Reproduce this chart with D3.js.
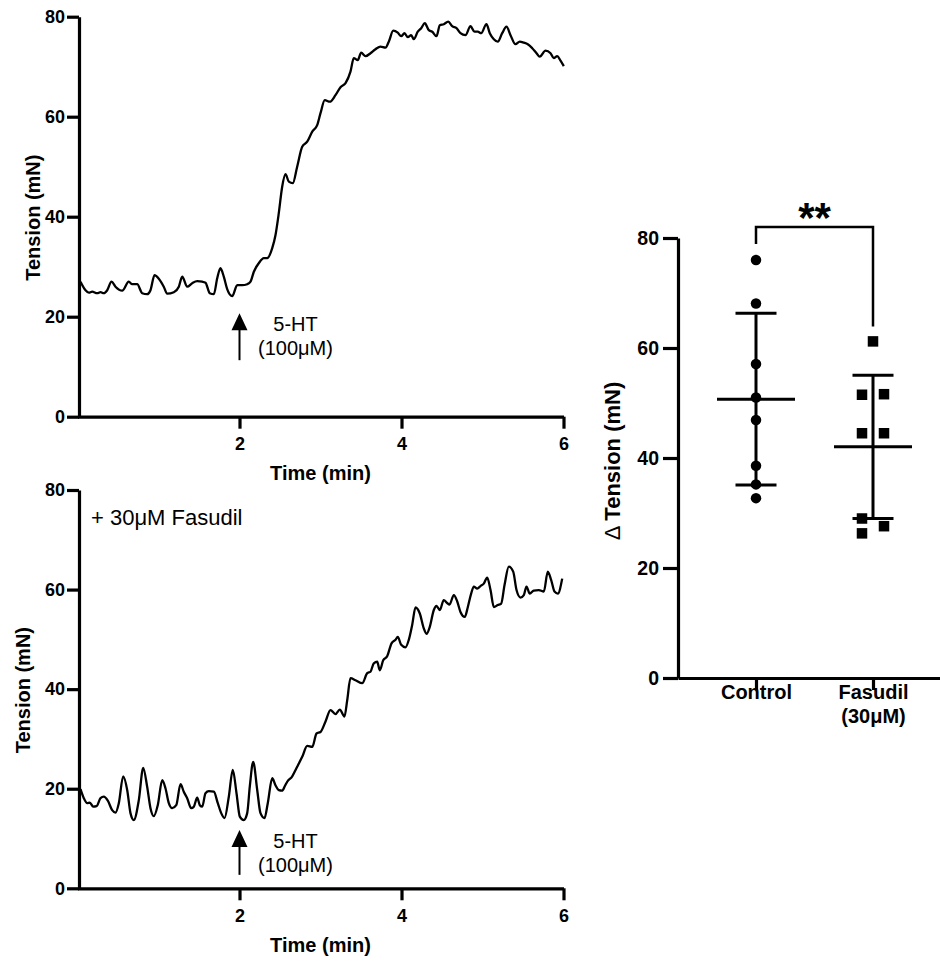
<!DOCTYPE html>
<html>
<head>
<meta charset="utf-8">
<script src="https://cdn.jsdelivr.net/npm/d3@7"></script>
<style>
  html, body { margin: 0; padding: 0; background: #fff; }
  svg { display: block; }
</style>
</head>
<body>
<svg id="fig" width="940" height="961"></svg>
<script>
// ---- Isometric tension recordings (time in min, tension in mN) ----
const controlTime = [0.037,0.099,0.140,0.181,0.243,0.284,0.325,0.367,0.420,0.469,0.552,0.633,0.675,0.737,0.799,0.860,0.901,0.951,1.004,1.065,1.107,1.189,1.251,1.293,1.354,1.416,1.478,1.540,1.580,1.633,1.683,1.725,1.765,1.806,1.848,1.910,1.972,2.033,2.095,2.136,2.177,2.238,2.300,2.342,2.404,2.444,2.485,2.527,2.568,2.609,2.658,2.712,2.774,2.836,2.898,2.959,3.000,3.053,3.115,3.185,3.247,3.309,3.370,3.411,3.460,3.502,3.556,3.617,3.679,3.741,3.802,3.843,3.898,3.954,3.996,4.037,4.078,4.120,4.152,4.201,4.243,4.288,4.337,4.379,4.432,4.473,4.522,4.577,4.626,4.679,4.728,4.790,4.852,4.901,4.942,4.984,5.049,5.090,5.140,5.189,5.243,5.296,5.346,5.407,5.460,5.510,5.559,5.614,5.667,5.707,5.778,5.840,5.880,5.922,5.963,6.004];
const controlTension = [27.0,25.3,24.8,25.0,24.7,24.9,24.7,25.3,27.0,26.0,25.2,27.0,26.5,26.5,24.7,24.5,25.3,28.3,27.6,26.0,24.6,24.9,26.0,28.0,26.0,26.7,27.1,27.0,26.8,24.7,24.5,27.7,29.7,28.0,25.5,24.1,26.3,26.3,26.5,27.0,29.0,30.7,31.7,31.7,33.7,36.3,40.7,46.0,48.5,47.0,46.7,50.0,54.0,55.0,57.0,58.3,60.7,63.3,63.0,64.3,65.9,66.7,69.0,71.7,71.3,72.8,72.1,72.7,73.5,74.0,73.8,75.0,77.2,76.8,76.1,76.7,75.9,76.3,75.5,77.0,77.7,78.7,77.3,77.0,76.1,78.3,78.5,79.0,78.1,77.7,76.7,76.3,78.1,77.0,77.0,76.7,78.5,76.7,75.5,75.0,76.7,78.0,76.3,74.5,75.0,74.8,74.5,73.7,72.7,72.0,73.2,72.7,71.7,72.1,71.2,70.1];

const fasudilTime = [0.037,0.078,0.120,0.152,0.194,0.235,0.284,0.325,0.374,0.428,0.469,0.510,0.564,0.614,0.654,0.695,0.757,0.811,0.860,0.901,0.942,0.991,1.046,1.086,1.127,1.169,1.219,1.272,1.312,1.354,1.404,1.436,1.478,1.510,1.540,1.580,1.621,1.683,1.732,1.774,1.815,1.868,1.917,1.963,2.004,2.053,2.095,2.127,2.169,2.219,2.259,2.309,2.349,2.404,2.444,2.485,2.525,2.562,2.589,2.651,2.712,2.774,2.836,2.898,2.951,3.000,3.062,3.123,3.185,3.238,3.296,3.330,3.370,3.432,3.515,3.577,3.617,3.658,3.700,3.732,3.774,3.823,3.877,3.926,3.954,3.996,4.049,4.090,4.132,4.173,4.226,4.275,4.309,4.349,4.399,4.432,4.473,4.522,4.564,4.593,4.646,4.688,4.728,4.781,4.819,4.860,4.893,4.935,4.975,5.016,5.058,5.099,5.140,5.189,5.231,5.272,5.325,5.379,5.420,5.469,5.510,5.543,5.584,5.633,5.695,5.757,5.806,5.848,5.889,5.930,5.984];
const fasudilTension = [19.9,18.1,17.1,17.2,16.4,16.5,18.1,18.4,17.6,15.7,15.2,17.1,22.5,19.7,15.1,13.7,17.7,24.2,20.4,16.1,14.5,16.7,21.7,20.1,17.1,16.1,16.7,20.9,19.4,18.1,16.1,16.4,18.2,16.7,16.4,19.1,19.5,19.4,17.1,15.1,14.1,18.4,23.8,19.1,14.4,13.7,15.1,20.4,25.4,19.7,15.1,14.1,17.1,22.1,20.7,19.7,19.6,20.6,21.4,22.5,24.4,26.4,28.6,28.4,31.1,31.4,33.5,35.8,35.0,35.9,34.5,37.8,42.2,41.8,41.2,43.2,43.5,45.2,45.5,43.8,45.8,46.6,49.2,49.9,50.5,48.9,48.4,49.9,52.9,56.4,55.2,52.2,51.1,52.5,55.9,56.7,55.9,57.9,57.3,57.0,58.9,57.6,55.5,54.5,56.5,59.2,60.6,60.2,60.7,61.2,62.4,59.9,56.5,56.9,57.2,60.9,64.6,63.6,59.9,58.4,58.9,60.6,59.2,59.8,59.9,59.6,63.6,61.9,59.6,59.2,62.2];

const tensionTicks = [0, 20, 40, 60, 80];
const timeTicks = [2, 4, 6];

// ---- Peak response to 5-HT (Δ tension, mN) ----
const groups = ["Control", "Fasudil"];
const groupLabelLines = [["Control"], ["Fasudil", "(30μM)"]];
const controlDelta = [76.0, 68.1, 57.1, 51.0, 46.9, 38.6, 35.2, 32.7];
const fasudilDelta = [61.2, 51.5, 51.6, 44.5, 44.5, 29.0, 27.6, 26.3];
const deltaTicks = [0, 20, 40, 60, 80];
const significance = "**";

// ---------------------------------------------------------------------------
const FONT = '"Liberation Sans", Arial, Helvetica, sans-serif';
const AXIS_W = 3.2;
const svg = d3.select("#fig");

function styleAxis(g, fontSize) {
  g.attr("font-family", FONT);
  g.select(".domain").attr("stroke", "#000").attr("stroke-width", AXIS_W);
  g.selectAll(".tick line").attr("stroke", "#000").attr("stroke-width", AXIS_W);
  g.selectAll(".tick text")
    .attr("font-size", fontSize)
    .attr("font-weight", "bold")
    .attr("fill", "#000");
}

const x = d3.scaleLinear().domain([0, 6]).range([77.5, 563.5]);
const axisX = 79;

const panels = [
  { time: controlTime, tension: controlTension, yBottom: 416.7, yTop: 16.7,
    yTitleX: 40, xTitleY: 480, arrow: [20.7, 11.3] },
  { time: fasudilTime, tension: fasudilTension, yBottom: 888.3, yTop: 490,
    yTitleX: 30, xTitleY: 952, arrow: [11.7, 2.7], note: "+ 30μM Fasudil" }
];

panels.forEach(p => {
  const y = d3.scaleLinear().domain([0, 80]).range([p.yBottom, p.yTop]);
  const g = svg.append("g");

  // trace
  const pts = p.time.map((t, i) => [t, p.tension[i]]);
  g.append("path")
    .datum(pts)
    .attr("fill", "none")
    .attr("stroke", "#000")
    .attr("stroke-width", 2.3)
    .attr("stroke-linejoin", "round")
    .attr("d", d3.line().x(d => x(d[0])).y(d => y(d[1])).curve(d3.curveMonotoneX));

  // axes
  const gx = g.append("g").attr("transform", `translate(0,${p.yBottom})`)
    .call(d3.axisBottom(x).tickValues(timeTicks).tickFormat(d3.format("d"))
      .tickSize(12).tickPadding(8.5).tickSizeOuter(0));
  styleAxis(gx, 18);
  const gy = g.append("g").attr("transform", `translate(${axisX},0)`)
    .call(d3.axisLeft(y).tickValues(tensionTicks).tickFormat(d3.format("d"))
      .tickSize(12).tickPadding(2).tickSizeOuter(0));
  styleAxis(gy, 18);

  // axis titles
  g.append("text")
    .attr("x", (x.range()[0] + x.range()[1]) / 2).attr("y", p.xTitleY)
    .attr("text-anchor", "middle").attr("font-family", FONT)
    .attr("font-size", 20).attr("font-weight", "bold")
    .text("Time (min)");
  const cy = (p.yBottom + p.yTop) / 2 + 1;
  g.append("text")
    .attr("transform", `translate(${p.yTitleX},${cy}) rotate(-90)`)
    .attr("text-anchor", "middle").attr("font-family", FONT)
    .attr("font-size", 20).attr("font-weight", "bold")
    .text("Tension (mN)");

  // 5-HT addition marker
  const ax = x(2), tip = y(p.arrow[0]), base = y(p.arrow[1]);
  g.append("line")
    .attr("x1", ax).attr("x2", ax).attr("y1", tip + 14).attr("y2", base)
    .attr("stroke", "#000").attr("stroke-width", 2);
  g.append("path")
    .attr("d", `M${ax},${tip} L${ax + 8},${tip + 17} L${ax - 8},${tip + 17} Z`)
    .attr("fill", "#000");
  const lab = g.append("text")
    .attr("font-family", FONT).attr("font-size", 20)
    .attr("text-anchor", "middle");
  lab.append("tspan").attr("x", ax + 56).attr("y", tip + 18).text("5-HT");
  lab.append("tspan").attr("x", ax + 56).attr("y", tip + 42).text("(100μM)");

  if (p.note) {
    g.append("text")
      .attr("x", axisX + 12).attr("y", p.yTop + 35)
      .attr("font-family", FONT).attr("font-size", 22)
      .text(p.note);
  }
});

// ---- Scatter of Δ tension with mean ± SD ----
const yD = d3.scaleLinear().domain([0, 80]).range([678, 238]);
const xD = d3.scalePoint().domain(groups).range([678, 951]).padding(2 / 3);
const pxPerUnit = (yD(0) - yD(1));
const markerSize = 10.5;

// spread overlapping points sideways
function spread(values, step) {
  const off = new Array(values.length).fill(0);
  let cluster = [];
  const flush = () => {
    if (cluster.length > 1) cluster.forEach((idx, k) => { off[idx] = (k % 2 === 0 ? -1 : 1) * step; });
  };
  values.forEach((v, i) => {
    if (i > 0 && Math.abs(values[i - 1] - v) * pxPerUnit < markerSize) cluster.push(i);
    else { flush(); cluster = [i]; }
  });
  flush();
  return off;
}

const gr = svg.append("g");
const gyD = gr.append("g").attr("transform", `translate(678,0)`)
  .call(d3.axisLeft(yD).tickValues(deltaTicks).tickFormat(d3.format("d"))
    .tickSize(15).tickPadding(4).tickSizeOuter(0));
styleAxis(gyD, 19.5);
const gxD = gr.append("g").attr("transform", `translate(0,678)`)
  .call(d3.axisBottom(xD).tickSize(12).tickPadding(9).tickSizeOuter(0).tickFormat(() => ""));
styleAxis(gxD, 20);
gxD.selectAll(".tick text").each(function (d, i) {
  const t = d3.select(this);
  groupLabelLines[i].forEach((line, k) => {
    t.append("tspan").attr("x", 0).attr("dy", k === 0 ? 0 : "1.2em").text(line);
  });
});

gr.append("text")
  .attr("transform", `translate(620,461) rotate(-90)`)
  .attr("text-anchor", "middle").attr("font-family", FONT)
  .attr("font-size", 22)
  .call(t => {
    t.append("tspan").attr("font-weight", "normal").text("Δ ");
    t.append("tspan").attr("font-weight", "bold").text("Tension (mN)");
  });

const sets = [
  { key: "Control", values: controlDelta, shape: "circle" },
  { key: "Fasudil", values: fasudilDelta, shape: "square" }
];

sets.forEach(s => {
  const cx = xD(s.key);
  const m = d3.mean(s.values), sd = d3.deviation(s.values);
  const off = spread(s.values, 11);

  // error bar
  gr.append("line").attr("x1", cx).attr("x2", cx)
    .attr("y1", yD(m - sd)).attr("y2", yD(m + sd))
    .attr("stroke", "#000").attr("stroke-width", 3);
  [m - sd, m + sd].forEach(v => {
    gr.append("line").attr("x1", cx - 20.5).attr("x2", cx + 20.5)
      .attr("y1", yD(v)).attr("y2", yD(v))
      .attr("stroke", "#000").attr("stroke-width", 3);
  });
  gr.append("line").attr("x1", cx - 39).attr("x2", cx + 39)
    .attr("y1", yD(m)).attr("y2", yD(m))
    .attr("stroke", "#000").attr("stroke-width", 3);

  // points
  if (s.shape === "circle") {
    gr.selectAll(null).data(s.values).join("circle")
      .attr("cx", (d, i) => cx + off[i]).attr("cy", d => yD(d))
      .attr("r", markerSize / 2).attr("fill", "#000");
  } else {
    gr.selectAll(null).data(s.values).join("rect")
      .attr("x", (d, i) => cx + off[i] - markerSize / 2).attr("y", d => yD(d) - markerSize / 2)
      .attr("width", markerSize).attr("height", markerSize).attr("fill", "#000");
  }
});

// significance bracket
const xa = xD("Control"), xb = xD("Fasudil");
const topA = yD(d3.max(controlDelta)), topB = yD(d3.max(fasudilDelta));
const barY = topA - 33;
gr.append("path")
  .attr("d", `M${xa},${topA - 16} V${barY} H${xb} V${topB - 15}`)
  .attr("fill", "none").attr("stroke", "#000").attr("stroke-width", 2.5);
gr.append("text")
  .attr("x", (xa + xb) / 2).attr("y", barY + 5)
  .attr("text-anchor", "middle").attr("font-family", FONT)
  .attr("font-size", 42).attr("font-weight", "bold")
  .text(significance);
</script>
</body>
</html>
